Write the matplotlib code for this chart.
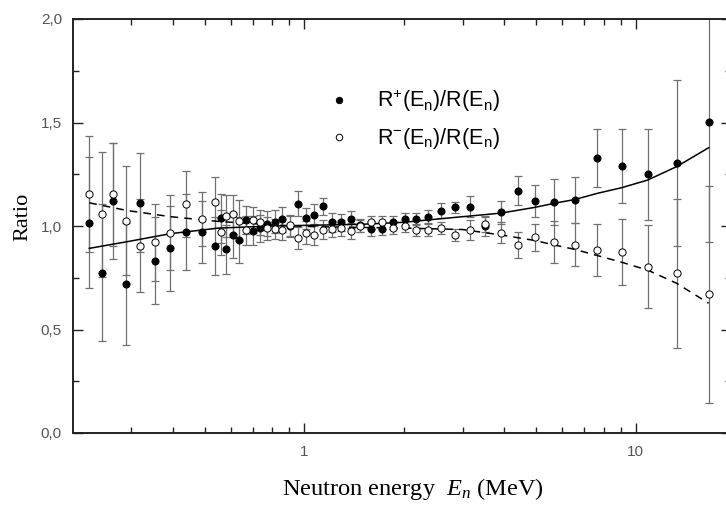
import numpy as np
import matplotlib
matplotlib.use("Agg")
import matplotlib.pyplot as plt
from matplotlib.ticker import FixedLocator, FuncFormatter, NullFormatter

plt.rcParams['font.family'] = ['Liberation Sans', 'DejaVu Sans']
plt.rcParams['mathtext.fontset'] = 'custom'
plt.rcParams['mathtext.rm'] = 'Liberation Serif'
plt.rcParams['mathtext.it'] = 'Liberation Serif:italic'

# neutron energy (MeV) of each bin
energy = [0.224, 0.244, 0.265, 0.290, 0.319, 0.353, 0.392, 0.438, 0.492, 0.536,
          0.558, 0.581, 0.608, 0.636, 0.667, 0.699, 0.734, 0.772, 0.812, 0.856,
          0.904, 0.956, 1.012, 1.070, 1.136, 1.213, 1.291, 1.380, 1.476, 1.586,
          1.712, 1.849, 2.005, 2.169, 2.361, 2.588, 2.849, 3.151, 3.499, 3.909,
          4.401, 4.971, 5.673, 6.555, 7.659, 9.074, 10.87, 13.30, 16.62]

# R+(En)/R(En) (filled) and its error
r_plus = [1.016, 0.774, 1.122, 0.720, 1.113, 0.832, 0.892, 0.972, 0.972, 0.903,
          1.037, 0.887, 0.955, 0.932, 1.029, 0.977, 0.990, 1.012, 1.020, 1.032,
          0.998, 1.107, 1.037, 1.052, 1.095, 1.018, 1.018, 1.032, 1.003, 0.987,
          0.987, 1.017, 1.033, 1.035, 1.043, 1.074, 1.090, 1.093, 0.998, 1.067,
          1.170, 1.121, 1.116, 1.126, 1.330, 1.291, 1.251, 1.303, 1.502]
r_plus_err = [0.316, 0.330, 0.280, 0.295, 0.240, 0.210, 0.205, 0.185, 0.150, 0.140,
              0.120, 0.120, 0.110, 0.110, 0.070, 0.070, 0.065, 0.060, 0.055, 0.060,
              0.050, 0.060, 0.050, 0.053, 0.040, 0.045, 0.040, 0.040, 0.030, 0.035,
              0.030, 0.030, 0.030, 0.030, 0.032, 0.036, 0.025, 0.050, 0.045, 0.055,
              0.070, 0.077, 0.110, 0.110, 0.140, 0.180, 0.220, 0.400, 0.580]

# R-(En)/R(En) (open) and its error
r_minus = [1.153, 1.056, 1.153, 1.026, 0.905, 0.921, 0.968, 1.105, 1.035, 1.114,
           0.969, 1.048, 1.056, 1.026, 0.980, 1.029, 1.018, 0.989, 0.985, 0.982,
           1.003, 0.942, 0.968, 0.958, 0.983, 0.986, 0.990, 0.976, 1.000, 1.017,
           1.017, 0.991, 1.000, 0.981, 0.983, 0.990, 0.956, 0.981, 1.010, 0.968,
           0.908, 0.945, 0.923, 0.910, 0.884, 0.876, 0.803, 0.771, 0.670]
r_minus_err = [0.280, 0.300, 0.250, 0.265, 0.225, 0.185, 0.180, 0.160, 0.130, 0.123,
               0.110, 0.100, 0.095, 0.100, 0.070, 0.065, 0.060, 0.055, 0.050, 0.050,
               0.050, 0.055, 0.055, 0.050, 0.045, 0.040, 0.040, 0.040, 0.030, 0.030,
               0.030, 0.030, 0.030, 0.030, 0.030, 0.030, 0.030, 0.047, 0.040, 0.050,
               0.062, 0.067, 0.100, 0.105, 0.125, 0.160, 0.200, 0.360, 0.524]

# fit curves
fit_e = [0.224, 0.291, 0.394, 0.55, 0.81, 1.0, 1.476, 2.0, 2.35, 3.0,
         3.91, 4.96, 5.69, 6.55, 7.67, 9.07, 10.87, 13.3, 16.6]
fit_plus = [0.892, 0.924, 0.963, 0.990, 1.000, 1.003, 1.008, 1.018, 1.029, 1.045,
            1.062, 1.090, 1.110, 1.128, 1.158, 1.185, 1.222, 1.287, 1.378]
fit_minus = [1.112, 1.075, 1.045, 1.022, 1.005, 0.998, 0.993, 0.990, 0.987, 0.983,
             0.957, 0.930, 0.908, 0.887, 0.857, 0.825, 0.787, 0.723, 0.627]

y_ticks = [0.0, 0.5, 1.0, 1.5, 2.0]
x_ticks = [1, 10]

fig = plt.figure(figsize=(7.26, 5.05), dpi=100)
# right spine lies just outside the picture, as in the cropped original
ax = fig.add_axes([73 / 726, 72 / 505, 658 / 726, 414 / 505])

bar_col = '#707070'
ax.errorbar(energy, r_plus, yerr=r_plus_err, fmt='none', ecolor=bar_col,
            elinewidth=0.9, capsize=3, capthick=0.9, zorder=2)
ax.errorbar(energy, r_minus, yerr=r_minus_err, fmt='none', ecolor=bar_col,
            elinewidth=0.9, capsize=3, capthick=0.9, zorder=2)

ax.plot(fit_e, fit_plus, color='black', lw=1.1, zorder=3)
ax.plot(fit_e, fit_minus, color='black', lw=1.1, dashes=(5, 4), zorder=3)

h1, = ax.plot(energy, r_plus, 'o', ms=5.2, mfc='black', mec='black', mew=0.6,
              ls='none', zorder=4)
h2, = ax.plot(energy, r_minus, 'o', ms=5.2, mfc='white', mec='black', mew=0.7,
              ls='none', zorder=5)

ax.set_xscale('log')
ax.set_xlim(0.2, 19.4)
ax.set_ylim(0, 2.0)

ax.xaxis.set_major_locator(FixedLocator(x_ticks))
ax.xaxis.set_major_formatter(FuncFormatter(lambda v, p: '%g' % v))
ax.xaxis.set_minor_locator(FixedLocator([0.3, 0.4, 0.5, 0.6, 0.7, 0.8, 0.9,
                                         2, 3, 4, 5, 6, 7, 8, 9]))
ax.xaxis.set_minor_formatter(NullFormatter())
ax.yaxis.set_major_locator(FixedLocator(y_ticks))
ax.yaxis.set_minor_locator(FixedLocator([0.25, 0.75, 1.25, 1.75]))
ax.yaxis.set_major_formatter(FuncFormatter(lambda v, p: ('%.1f' % v).replace('.', ',')))

ax.tick_params(which='both', direction='in', top=True, right=True,
               color='#222222', width=1.0, labelsize=11, labelcolor='#555555')
ax.tick_params(which='major', length=7)
ax.tick_params(which='minor', length=4)
ax.tick_params(axis='x', pad=9)
ax.tick_params(axis='y', pad=8)
for s in ax.spines.values():
    s.set_linewidth(1.4)
    s.set_color('#222222')

ax.set_ylabel('Ratio', family='Liberation Serif', fontsize=16)
ax.yaxis.set_label_coords(-0.062, 0.522)
ax.set_xlabel(r'Neutron energy  $E_n$ (MeV)', family='Liberation Serif',
              fontsize=17.6)
ax.xaxis.set_label_coords(0.517, -0.104)

leg = ax.legend([h1, h2],
                [r'$\mathregular{R^{+}(E_{n})/R(E_{n})}$',
                 r'$\mathregular{R^{-}(E_{n})/R(E_{n})}$'],
                loc='upper left', bbox_to_anchor=(317 / 726, 1 - 88 / 505),
                bbox_transform=fig.transFigure, frameon=False, fontsize=15.5,
                handlelength=2.0, handletextpad=0.8, labelspacing=0.55,
                borderpad=0, borderaxespad=0, markerscale=0.9)

fig.savefig('out.png', dpi=100)
